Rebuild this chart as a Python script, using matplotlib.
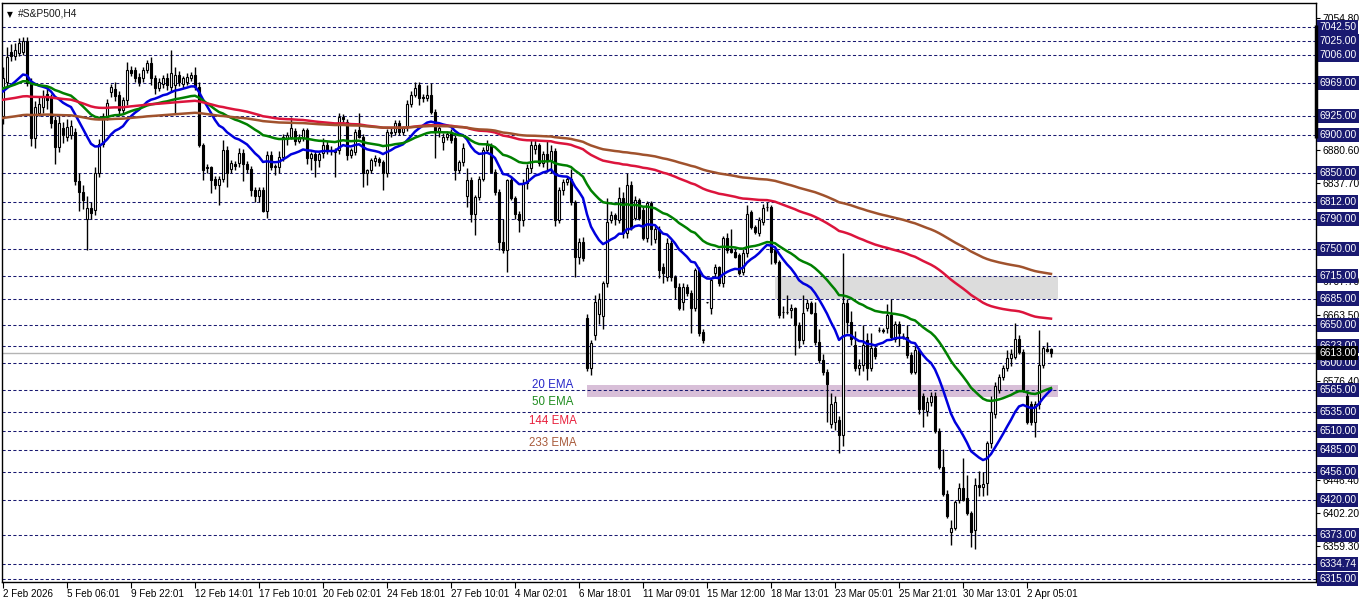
# #S&P500 H4 candles with 20/50/144/233 EMA, MT4 style

import matplotlib
matplotlib.use("Agg")
import matplotlib.pyplot as plt
import numpy as np
import pandas as pd
from matplotlib.patches import Rectangle

plt.rcParams['font.family'] = ['Liberation Sans', 'DejaVu Sans']

# OHLC per H4 bar (bar 0 = 2 Feb 2026)
opens = [
    6925, 6970, 7010, 7004, 7008, 7010, 7025, 6969, 6896, 6930,
    6937, 6955, 6950, 6920, 6885, 6910, 6898, 6900, 6905, 6840,
    6826, 6790, 6804, 6802, 6851, 6889, 6926, 6957, 6961, 6953,
    6933, 6946, 6986, 6986, 6977, 6975, 6986, 6995, 6975, 6962,
    6968, 6976, 6964, 6966, 6980, 6968, 6970, 6976, 6979, 6964,
    6887, 6858, 6858, 6843, 6834, 6843, 6881, 6856, 6862, 6863,
    6877, 6862, 6856, 6828, 6820, 6828, 6801, 6874, 6858, 6858,
    6871, 6895, 6898, 6906, 6893, 6896, 6907, 6870, 6876, 6868,
    6877, 6887, 6880, 6881, 6881, 6924, 6918, 6874, 6878, 6907,
    6898, 6850, 6854, 6866, 6869, 6865, 6850, 6903, 6904, 6916,
    6905, 6911, 6942, 6953, 6966, 6950, 6949, 6953, 6931, 6904,
    6891, 6898, 6904, 6896, 6854, 6865, 6820, 6841, 6797, 6819,
    6843, 6881, 6888, 6852, 6826, 6759, 6749, 6841, 6817, 6797,
    6789, 6837, 6857, 6882, 6888, 6864, 6876, 6866, 6880, 6788,
    6828, 6838, 6843, 6812, 6740, 6759, 6659, 6594, 6637, 6665,
    6662, 6706, 6788, 6795, 6788, 6817, 6771, 6834, 6791, 6815,
    6802, 6765, 6811, 6763, 6777, 6726, 6713, 6758, 6713, 6700,
    6680, 6700, 6692, 6673, 6722, 6641, 6680, 6672, 6718, 6726,
    6705, 6765, 6750, 6746, 6742, 6720, 6745, 6799, 6779, 6771,
    6786, 6805, 6805, 6749, 6733, 6667, 6667, 6670, 6672, 6650,
    6630, 6673, 6679, 6666, 6628, 6604, 6588, 6520, 6522, 6525,
    6505, 6679, 6654, 6624, 6594, 6597, 6630, 6594, 6620, 6643,
    6643, 6646, 6663, 6632, 6652, 6636, 6634, 6610, 6588, 6617,
    6557, 6537, 6548, 6557, 6511, 6463, 6428, 6377, 6383, 6419,
    6435, 6422, 6402, 6380, 6439, 6436, 6442, 6494, 6533, 6564,
    6581, 6593, 6606, 6608, 6632, 6614, 6557, 6546, 6522, 6546,
    6597, 6618, 6618,
]
highs = [
    6990, 7016, 7020, 7022, 7028, 7030, 7030, 6975, 6945, 6950,
    6960, 6962, 6955, 6925, 6925, 6918, 6922, 6920, 6910, 6850,
    6835, 6820, 6812, 6858, 6895, 6930, 6948, 6968, 6970, 6958,
    6950, 6997, 6992, 6990, 6982, 6990, 7000, 7003, 6980, 6975,
    6980, 6982, 7012, 6990, 6985, 6978, 6982, 6984, 6990, 6970,
    6890, 6862, 6860, 6846, 6846, 6894, 6886, 6868, 6866, 6884,
    6882, 6866, 6860, 6832, 6832, 6832, 6880, 6880, 6862, 6880,
    6902, 6905, 6924, 6910, 6902, 6910, 6910, 6878, 6880, 6878,
    6896, 6892, 6886, 6884, 6929, 6928, 6922, 6884, 6908, 6929,
    6902, 6856, 6870, 6874, 6872, 6868, 6908, 6910, 6920, 6920,
    6912, 6946, 6958, 6970, 6970, 6955, 6966, 6969, 6935, 6915,
    6903, 6906, 6908, 6900, 6868, 6890, 6857, 6845, 6822, 6846,
    6885, 6894, 6890, 6856, 6830, 6790, 6843, 6846, 6820, 6800,
    6842, 6862, 6894, 6894, 6890, 6880, 6894, 6888, 6884, 6832,
    6842, 6846, 6856, 6815, 6765, 6766, 6665, 6630, 6690, 6692,
    6708, 6817, 6800, 6798, 6832, 6825, 6850, 6840, 6820, 6818,
    6806, 6813, 6814, 6780, 6780, 6732, 6765, 6762, 6716, 6705,
    6706, 6704, 6696, 6725, 6726, 6645, 6681, 6712, 6730, 6728,
    6768, 6772, 6776, 6750, 6745, 6750, 6808, 6802, 6782, 6792,
    6810, 6812, 6808, 6752, 6736, 6675, 6690, 6678, 6674, 6654,
    6689, 6684, 6682, 6680, 6645, 6612, 6592, 6560, 6556, 6530,
    6745, 6685, 6668, 6642, 6605, 6650, 6640, 6640, 6622, 6647,
    6646, 6678, 6685, 6656, 6656, 6640, 6650, 6614, 6622, 6620,
    6560, 6555, 6562, 6562, 6515, 6487, 6432, 6393, 6420, 6442,
    6475, 6452, 6405, 6448, 6458, 6456, 6497, 6556, 6575, 6585,
    6597, 6617, 6618, 6653, 6637, 6618, 6563, 6550, 6550, 6643,
    6622, 6628, 6620,
]
lows = [
    6915, 6965, 6998, 7000, 7005, 7006, 6965, 6886, 6884, 6925,
    6930, 6935, 6910, 6862, 6878, 6890, 6893, 6895, 6835, 6800,
    6803, 6749, 6790, 6795, 6845, 6885, 6920, 6950, 6945, 6925,
    6928, 6940, 6978, 6970, 6965, 6970, 6982, 6966, 6955, 6958,
    6962, 6960, 6958, 6930, 6965, 6962, 6966, 6972, 6960, 6885,
    6841, 6850, 6824, 6830, 6808, 6838, 6832, 6850, 6855, 6858,
    6840, 6850, 6820, 6812, 6812, 6799, 6791, 6855, 6848, 6850,
    6866, 6888, 6895, 6888, 6890, 6892, 6862, 6855, 6845, 6858,
    6870, 6876, 6874, 6845, 6876, 6915, 6868, 6870, 6874, 6896,
    6832, 6835, 6850, 6860, 6860, 6828, 6845, 6898, 6900, 6900,
    6900, 6906, 6938, 6950, 6940, 6944, 6945, 6928, 6870, 6898,
    6881, 6894, 6890, 6841, 6850, 6860, 6806, 6786, 6769, 6815,
    6840, 6878, 6850, 6822, 6749, 6745, 6720, 6815, 6790, 6773,
    6780, 6830, 6850, 6876, 6860, 6858, 6852, 6850, 6780, 6784,
    6822, 6834, 6808, 6713, 6730, 6735, 6590, 6584, 6630, 6652,
    6645, 6700, 6784, 6782, 6785, 6765, 6765, 6775, 6788, 6788,
    6762, 6760, 6755, 6758, 6712, 6705, 6708, 6708, 6685, 6670,
    6670, 6688, 6639, 6668, 6636, 6626, 6679, 6664, 6712, 6702,
    6700, 6745, 6745, 6738, 6716, 6716, 6740, 6776, 6770, 6768,
    6782, 6800, 6731, 6730, 6660, 6660, 6665, 6660, 6610, 6620,
    6625, 6668, 6664, 6624, 6600, 6584, 6522, 6515, 6512, 6482,
    6490, 6640, 6624, 6590, 6584, 6590, 6578, 6590, 6605, 6641,
    6640, 6640, 6630, 6628, 6622, 6632, 6606, 6585, 6585, 6533,
    6516, 6530, 6544, 6508, 6460, 6425, 6396, 6360, 6380, 6415,
    6418, 6400, 6357, 6355, 6425, 6425, 6426, 6488, 6528, 6560,
    6578, 6590, 6596, 6605, 6612, 6562, 6520, 6518, 6502, 6540,
    6594, 6614, 6608,
]
closes = [
    6975, 7003, 7004, 7012, 7022, 7025, 6969, 6896, 6937, 6942,
    6950, 6946, 6916, 6885, 6916, 6900, 6911, 6912, 6840, 6826,
    6815, 6804, 6798, 6851, 6889, 6926, 6943, 6964, 6952, 6933,
    6946, 6986, 6982, 6975, 6970, 6986, 6995, 6975, 6962, 6970,
    6976, 6966, 6982, 6980, 6970, 6975, 6977, 6980, 6964, 6887,
    6854, 6857, 6841, 6834, 6843, 6881, 6850, 6863, 6860, 6877,
    6862, 6856, 6828, 6820, 6828, 6800, 6874, 6858, 6860, 6871,
    6898, 6900, 6910, 6893, 6898, 6907, 6870, 6876, 6868, 6876,
    6887, 6880, 6881, 6878, 6924, 6921, 6874, 6881, 6904, 6898,
    6850, 6854, 6868, 6870, 6865, 6850, 6904, 6904, 6916, 6905,
    6910, 6942, 6953, 6962, 6949, 6949, 6953, 6931, 6904, 6910,
    6898, 6902, 6894, 6854, 6865, 6884, 6841, 6797, 6819, 6843,
    6881, 6888, 6852, 6826, 6759, 6749, 6841, 6817, 6797, 6789,
    6837, 6857, 6887, 6888, 6864, 6876, 6866, 6880, 6788, 6828,
    6838, 6843, 6812, 6740, 6759, 6738, 6593, 6626, 6680, 6684,
    6706, 6786, 6795, 6790, 6817, 6771, 6834, 6779, 6815, 6791,
    6765, 6811, 6777, 6777, 6722, 6718, 6758, 6713, 6700, 6673,
    6700, 6692, 6673, 6722, 6639, 6630, 6680, 6709, 6726, 6705,
    6765, 6749, 6746, 6740, 6718, 6745, 6797, 6779, 6773, 6788,
    6804, 6805, 6746, 6733, 6663, 6667, 6667, 6672, 6650, 6630,
    6666, 6679, 6666, 6628, 6604, 6588, 6573, 6546, 6548, 6505,
    6679, 6654, 6632, 6594, 6597, 6624, 6594, 6620, 6609, 6643,
    6642, 6663, 6634, 6652, 6640, 6635, 6610, 6588, 6617, 6540,
    6540, 6548, 6557, 6511, 6463, 6428, 6399, 6383, 6417, 6435,
    6419, 6402, 6377, 6439, 6436, 6441, 6494, 6535, 6570, 6581,
    6593, 6606, 6612, 6632, 6614, 6564, 6522, 6522, 6546, 6597,
    6620, 6616, 6613,
]

# EMA settings; start values are the EMA levels at the first visible bar
ema_periods = [20, 50, 144, 233]
ema_start = [6958, 6962, 6947, 6923]
ema_colors = ['#0000dd', '#008000', '#dc143c', '#a0522d']
ema_names = ['20 EMA', '50 EMA', '144 EMA', '233 EMA']
ema_text_colors = ['#2626c8', '#1f8c1f', '#e8203c', '#a85a3a']

# horizontal levels drawn on the chart (labelled on the price scale)
levels = [7042.50, 7025.00, 7006.00, 6969.00, 6925.00, 6900.00, 6850.00,
          6812.00, 6790.00, 6750.00, 6715.00, 6685.00, 6650.00, 6623.00,
          6600.00, 6565.00, 6535.00, 6510.00, 6485.00, 6456.00, 6420.00,
          6373.00, 6334.74, 6315.00]
scale_ticks = [7054.80, 6880.60, 6837.70, 6707.70, 6663.50, 6576.40,
               6446.40, 6402.20, 6359.30]
bid_price = 6613.00

# zones: (first bar, low, high)
grey_zone = (193, 6685, 6715)
purple_zone = (146, 6555, 6571)

time_labels = ['2 Feb 2026', '5 Feb 06:01', '9 Feb 22:01', '12 Feb 14:01',
               '17 Feb 10:01', '20 Feb 02:01', '24 Feb 18:01', '27 Feb 10:01',
               '4 Mar 02:01', '6 Mar 18:01', '11 Mar 09:01', '15 Mar 12:00',
               '18 Mar 13:01', '23 Mar 05:01', '25 Mar 21:01', '30 Mar 13:01',
               '2 Apr 05:01']

o = np.array(opens, float)
h = np.array(highs, float)
l = np.array(lows, float)
c = np.array(closes, float)
n = len(c)
idx = np.arange(n)

W, H = 1362, 603
fig = plt.figure(figsize=(W / 100, H / 100), dpi=100)
ax = fig.add_axes([2 / W, 21 / H, 1314 / W, 579 / H])
ax.set_xlim(-0.25, 328.25)
ax.set_ylim(6311.4, 7074.5)

navy = '#191970'
label_size = 7.4

# zones
ax.add_patch(Rectangle((grey_zone[0], grey_zone[1]), 263.75 - grey_zone[0],
                       grey_zone[2] - grey_zone[1], facecolor='#dcdcdc',
                       edgecolor='none', zorder=0))
ax.add_patch(Rectangle((purple_zone[0], purple_zone[1]), 263.75 - purple_zone[0],
                       purple_zone[2] - purple_zone[1], facecolor='#d8bfd8',
                       edgecolor='none', zorder=0))

# level lines
for lv in levels:
    ax.axhline(lv, color=navy, lw=0.75, dashes=(3, 2.2), zorder=1)
ax.axhline(bid_price, color='#b4b4b4', lw=1, zorder=1)

# candles
up = c >= o
ax.vlines(idx, l, h, color='black', lw=1, zorder=2)
body_low = np.minimum(o, c)
body_h = np.maximum(np.abs(c - o), 0.6)
ax.bar(idx, body_h, bottom=body_low, width=0.6,
       color=np.where(up, 'white', 'black'), edgecolor='black',
       linewidth=0.8, zorder=3)

# EMAs
for p, s, col in zip(ema_periods, ema_start, ema_colors):
    ema = pd.Series([s] + closes[1:], dtype=float).ewm(span=p, adjust=False).mean()
    ax.plot(idx, ema, color=col, lw=1.8, zorder=4)

# EMA captions
cap_y = [6571, 6549, 6523, 6495]
for name, yv, col in zip(ema_names, cap_y, ema_text_colors):
    ax.text(137.5, yv, name, color=col, fontsize=8.3, ha='center', va='center',
            zorder=5)

# header
ax.text(0.004, 0.988, '\u25bc', transform=ax.transAxes, fontsize=5.5,
        va='top', ha='left', family=['DejaVu Sans'])
ax.text(0.0125, 0.991, '#S&P500,H4', transform=ax.transAxes, fontsize=7.4,
        va='top', ha='left', color='#1a1a1a')

# frame
for sp in ax.spines.values():
    sp.set_color('black')
    sp.set_linewidth(1)

# price scale
ax.yaxis.tick_right()
ax.set_yticks(scale_ticks)
ax.set_yticklabels([f'{v:.2f}' for v in scale_ticks])
ax.tick_params(axis='y', length=3, width=0.8, pad=1.5, labelsize=label_size,
               colors='black')
for lv in levels:
    ax.text(1.0025, lv, f'{lv:.2f}', transform=ax.get_yaxis_transform(),
            color='white', fontsize=label_size, va='center', ha='left', zorder=6,
            bbox=dict(boxstyle='square,pad=0.2', facecolor=navy,
                      edgecolor='none'), clip_on=False)
ax.text(1.0025, bid_price, f'{bid_price:.2f}', transform=ax.get_yaxis_transform(),
        color='white', fontsize=label_size, va='center', ha='left', zorder=7,
        bbox=dict(boxstyle='square,pad=0.2', facecolor='black',
                  edgecolor='none'), clip_on=False)
ax.plot([1.0, 1.0], [6897, 7046], transform=ax.get_yaxis_transform(),
        color='black', lw=2.5, solid_capstyle='butt', clip_on=False, zorder=8)

# time scale
ax.set_xticks(np.arange(len(time_labels)) * 16)
ax.set_xticklabels(time_labels, ha='left')
ax.tick_params(axis='x', length=4, width=0.8, pad=1, labelsize=7.1,
               colors='black')

fig.savefig('out.png', dpi=100, facecolor='white')
